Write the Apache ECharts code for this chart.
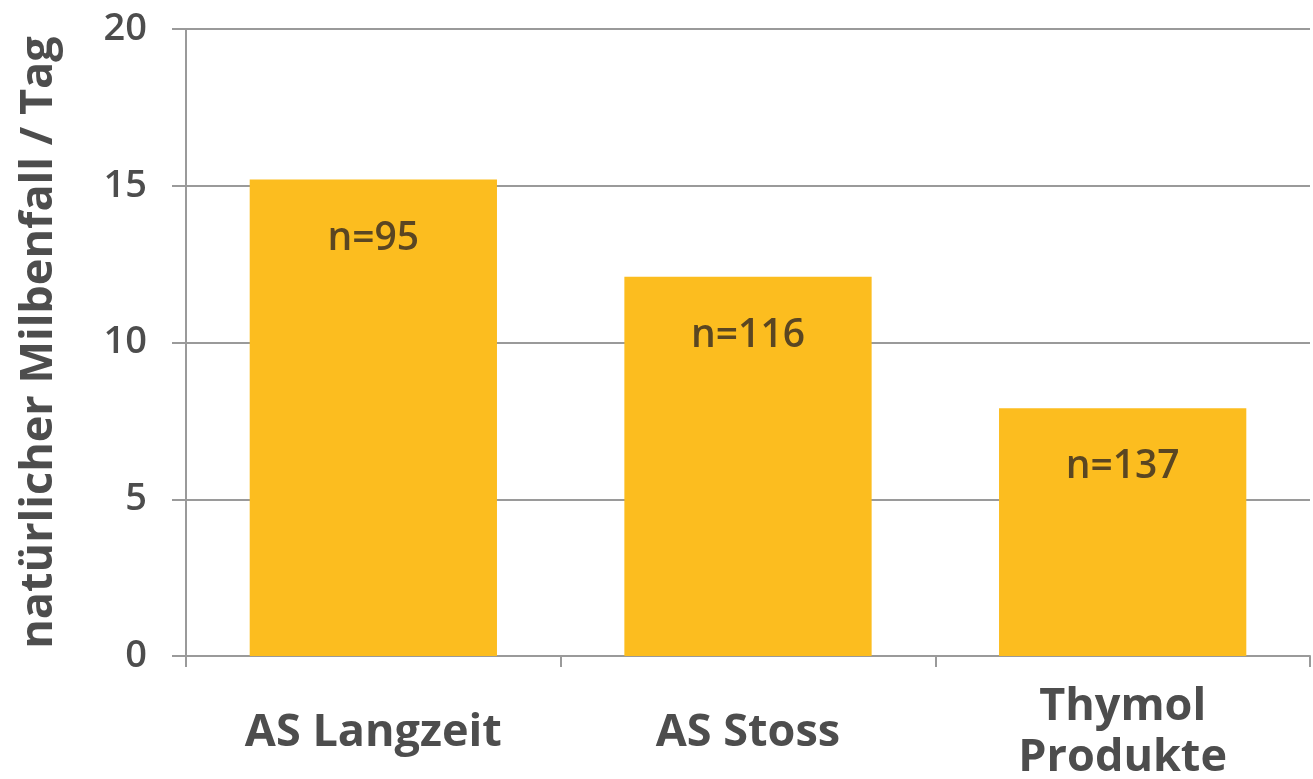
<!DOCTYPE html>
<html>
<head>
<meta charset="utf-8">
<title>natürlicher Milbenfall / Tag</title>
<script src="https://cdn.jsdelivr.net/npm/echarts@6/dist/echarts.min.js"></script>
<style>
  html, body { margin: 0; padding: 0; background: #fff; }
  #chart { width: 1313px; height: 779px; }
</style>
</head>
<body>
<div id="chart"></div>
<script>
// Natural mite drop per day by treatment group
const categories = ['AS Langzeit', 'AS Stoss', 'Thymol\nProdukte'];
const miteDrop = [15.2, 12.1, 7.9];
const sampleSizes = [95, 116, 137];
const yTicks = { min: 0, max: 20, interval: 5 };

const textColor = '#4d4d4d';
const lineColor = '#9a9a9a';

const chart = echarts.init(document.getElementById('chart'), null, { renderer: 'canvas' });

chart.setOption({
  animation: false,
  backgroundColor: '#ffffff',
  grid: {
    left: 186, right: 3, top: 29, bottom: 123,
    containLabel: false,
    outerBoundsMode: 'none'
  },
  xAxis: {
    type: 'category',
    data: categories,
    axisLine: { show: true, lineStyle: { color: lineColor, width: 2 } },
    axisTick: { show: true, length: 11, lineStyle: { color: lineColor, width: 2 } },
    axisLabel: {
      color: textColor,
      fontFamily: 'Open Sans',
      fontWeight: 'bold',
      fontSize: 45,
      lineHeight: 51,
      verticalAlign: 'middle',
      margin: 77,
      interval: 0
    },
    splitLine: { show: false }
  },
  yAxis: {
    type: 'value',
    min: yTicks.min,
    max: yTicks.max,
    interval: yTicks.interval,
    name: 'natürlicher Milbenfall / Tag',
    nameLocation: 'middle',
    nameGap: 124,
    nameTextStyle: {
      color: textColor,
      fontFamily: 'Open Sans',
      fontWeight: 'bold',
      fontSize: 45
    },
    axisLine: { show: true, lineStyle: { color: lineColor, width: 2 } },
    axisTick: { show: true, inside: false, length: 14, lineStyle: { color: lineColor, width: 2 } },
    axisLabel: {
      color: textColor,
      fontFamily: 'Open Sans',
      fontWeight: 600,
      fontSize: 38,
      margin: 39
    },
    splitLine: { show: true, lineStyle: { color: lineColor, width: 2 } }
  },
  series: [{
    type: 'bar',
    data: miteDrop,
    barCategoryGap: '34%',
    itemStyle: { color: '#FCBD1F' },
    label: {
      show: true,
      position: 'insideTop',
      distance: 39,
      color: '#5a4622',
      fontFamily: 'Open Sans',
      fontWeight: 600,
      fontSize: 39,
      lineHeight: 40,
      formatter: p => 'n=' + sampleSizes[p.dataIndex]
    }
  }]
});
</script>
</body>
</html>
